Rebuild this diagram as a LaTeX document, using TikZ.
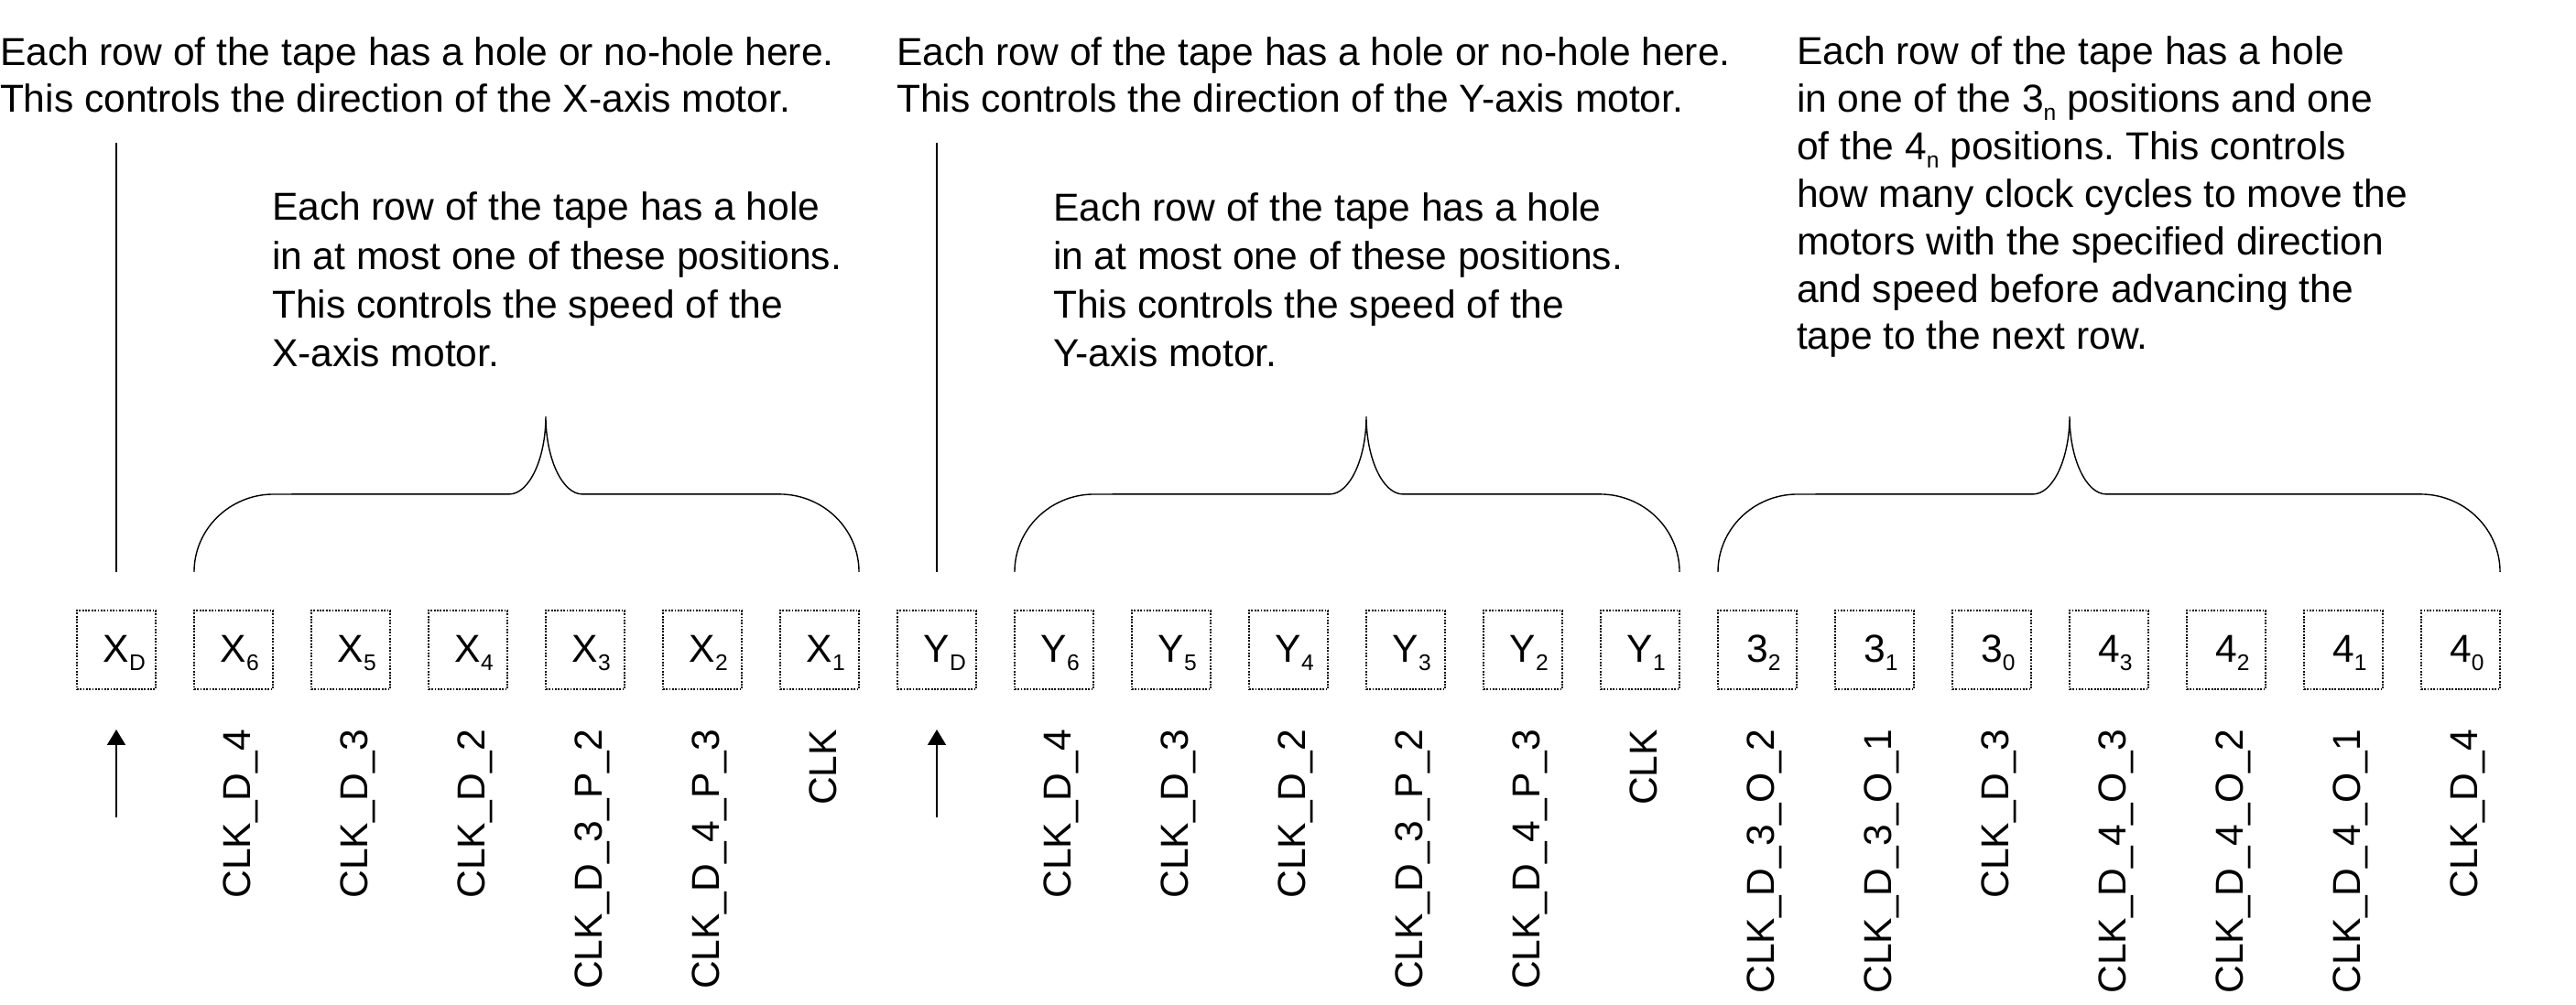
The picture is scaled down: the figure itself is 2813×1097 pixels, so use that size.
\documentclass[tikz,border=0pt]{standalone}
\usepackage{fontspec}
\setmainfont{Liberation Sans}
\usetikzlibrary{arrows.meta}
\frenchspacing
\newcommand\subtxt[1]{\raisebox{-2.6pt}{\fontsize{7}{8}\selectfont #1}}
\newcommand\textblock[5]{%
  \foreach \lline [count=\i from 0] in {#5} {\node[txt] (#1-\i) at (#2,#3+\i*#4) {\lline};}}
\newcommand\tapebrace[3]{%
  \draw ([yshift=0.42cm]#1.north west) .. controls +(0,-47) and +(-48,0) .. ++(87,-85)
    -- ([xshift=-0.40cm,yshift=1.27cm]#2.north west) .. controls +(22,0) and +(0,46) .. ([yshift=2.12cm]#2.north west)
    .. controls +(0,46) and +(-22,0) .. ([xshift=0.40cm,yshift=1.27cm]#2.north west)
    -- ([xshift=-0.87cm,yshift=1.27cm]#3.north east) .. controls +(48,0) and +(0,-47) .. ([yshift=0.42cm]#3.north east);}
\tikzset{
  txt/.style={anchor=base west, inner sep=0pt, outer sep=0pt, font=\fontsize{12.1}{14}\selectfont},
  cell/.style={draw, line width=0.55pt, dash pattern=on 0.5pt off 0.45pt, minimum width=0.86cm, minimum height=0.86cm,
    inner sep=0pt, outer sep=0pt, text height=0.30cm, text depth=0.04cm, font=\fontsize{12.1}{14}\selectfont},
  lbl/.style={rotate=90, anchor=base east, inner sep=0pt, outer sep=0pt, font=\fontsize{12.1}{14}\selectfont},
  conn/.style={line width=0.4pt},
  arr/.style={line width=0.4pt, -{Triangle[width=5.7pt,length=4.8pt]}}
}
\begin{document}
\begin{tikzpicture}[x=0.01cm,y=-0.01cm]
\useasboundingbox (0,0) rectangle (2813,1097);
% top texts
\textblock{ta}{0}{72}{51}{Each row of the tape has a hole or no-hole here.,This controls the direction of the X-axis motor.}
\textblock{tb}{979}{72}{51}{Each row of the tape has a hole or no-hole here.,This controls the direction of the Y-axis motor.}
\textblock{tc}{1962}{71}{51.8}{Each row of the tape has a hole,in one of the 3\subtxt{n} positions and one,of the 4\subtxt{n} positions. This controls,how many clock cycles to move the,motors with the specified direction,and speed before advancing the,tape to the next row.}
\textblock{td}{297}{241}{53}{Each row of the tape has a hole,in at most one of these positions.,This controls the speed of the,X-axis motor.}
\textblock{te}{1150}{241.5}{53}{Each row of the tape has a hole,in at most one of these positions.,This controls the speed of the,Y-axis motor.}
% cells
\foreach \nm/\mainc/\sb [count=\k from 0] in {xd/X/D, x6/X/6, x5/X/5, x4/X/4, x3/X/3, x2/X/2, x1/X/1,
   yd/Y/D, y6/Y/6, y5/Y/5, y4/Y/4, y3/Y/3, y2/Y/2, y1/Y/1,
   c32/3/2, c31/3/1, c30/3/0, c43/4/3, c42/4/2, c41/4/1, c40/4/0}
  {\node[cell] (\nm) at (127+128*\k,710) {\mainc\rlap{\smash{\subtxt{\sb}}}};}
% labels
\foreach \nm/\lab in {x6/CLK\_D\_4, x5/CLK\_D\_3, x4/CLK\_D\_2, x3/CLK\_D\_3\_P\_2, x2/CLK\_D\_4\_P\_3, x1/CLK,
   y6/CLK\_D\_4, y5/CLK\_D\_3, y4/CLK\_D\_2, y3/CLK\_D\_3\_P\_2, y2/CLK\_D\_4\_P\_3, y1/CLK,
   c32/CLK\_D\_3\_O\_2, c31/CLK\_D\_3\_O\_1, c30/CLK\_D\_3, c43/CLK\_D\_4\_O\_3, c42/CLK\_D\_4\_O\_2, c41/CLK\_D\_4\_O\_1, c40/CLK\_D\_4}
  {\node[lbl] (l-\nm) at ([xshift=0.18cm,yshift=-0.44cm]\nm.south) {\lab};}
% direction lines and arrows
\foreach \nm in {xd,yd}{
  \draw[conn] ([yshift=0.42cm]\nm.north) -- ([yshift=5.11cm]\nm.north);
  \draw[arr] ([yshift=-1.40cm]\nm.south) -- ([yshift=-0.44cm]\nm.south);
}
% braces
\tapebrace{x6}{x3}{x1}
\tapebrace{y6}{y3}{y1}
\tapebrace{c32}{c43}{c40}
\end{tikzpicture}
\end{document}
